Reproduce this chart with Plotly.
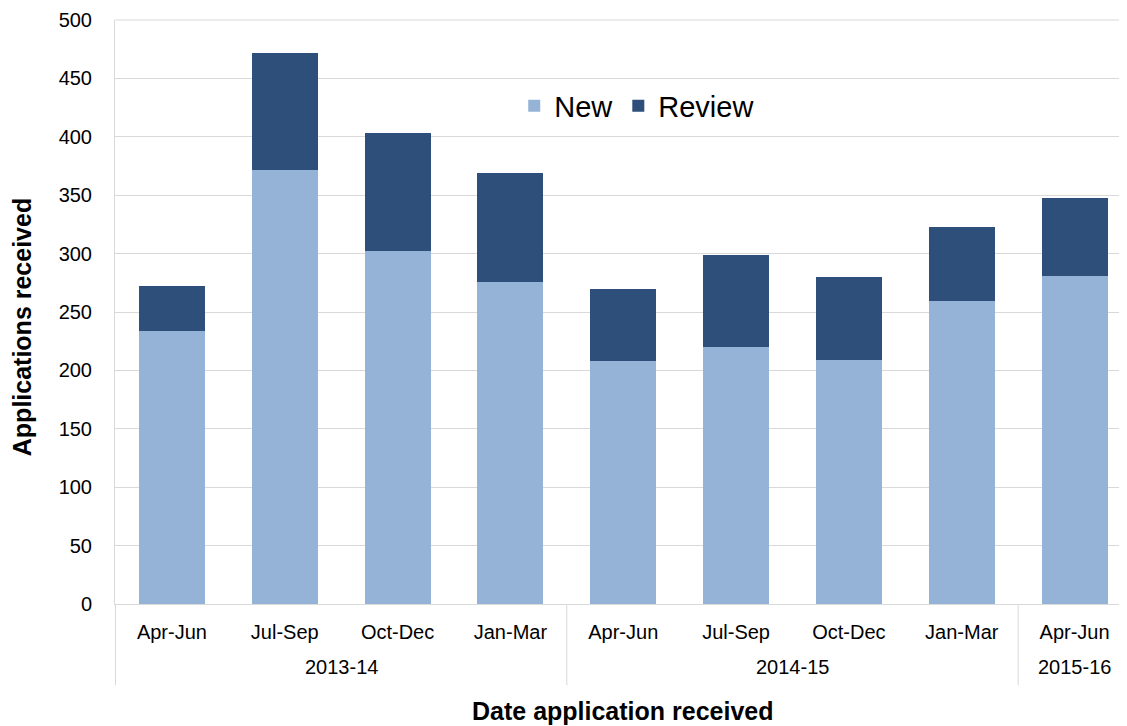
import plotly.graph_objects as go

years = ["2013-14", "2013-14", "2013-14", "2013-14", "2014-15", "2014-15", "2014-15", "2014-15", "2015-16"]
quarters = ["Apr-Jun", "Jul-Sep", "Oct-Dec", "Jan-Mar", "Apr-Jun", "Jul-Sep", "Oct-Dec", "Jan-Mar", "Apr-Jun"]
new_apps = [234, 372, 302, 276, 208, 220, 209, 259, 281]
review_apps = [38, 100, 101, 93, 62, 79, 71, 64, 67]

font_family = "Liberation Sans, Arial, sans-serif"
grid_col = "#D9D9D9"

# unique category keys, displayed with quarter names
keys = [f"{y} {q}" for y, q in zip(years, quarters)]

fig = go.Figure()
fig.add_trace(go.Bar(x=keys, y=new_apps, name="New",
                     marker=dict(color="#95B3D7", line=dict(width=0))))
fig.add_trace(go.Bar(x=keys, y=review_apps, name="Review",
                     marker=dict(color="#2E4F79", line=dict(width=0))))

# year group labels and dividers (derived from the years list)
groups = []
for i, y in enumerate(years):
    if groups and groups[-1][0] == y:
        groups[-1][2] = i
    else:
        groups.append([y, i, i])

annotations = []
shapes = []
for name, i0, i1 in groups:
    annotations.append(dict(x=(i0 + i1) / 2, y=-0.108, xref="x", yref="paper", text=name,
                            showarrow=False, yanchor="middle",
                            font=dict(size=20, family=font_family, color="#000")))
    shapes.append(dict(type="line", xref="x", yref="paper", x0=i0 - 0.5, x1=i0 - 0.5,
                       y0=0, y1=-0.139, line=dict(color=grid_col, width=1)))

annotations.append(dict(x=0.5, y=-0.183, xref="paper", yref="paper",
                        text="<b>Date application received</b>", showarrow=False,
                        yanchor="middle", font=dict(size=25, family=font_family, color="#000")))
annotations.append(dict(x=-0.0915, y=0.474, xref="paper", yref="paper", textangle=-90,
                        text="<b>Applications received</b>", showarrow=False,
                        xanchor="center", yanchor="middle",
                        font=dict(size=25, family=font_family, color="#000")))
shapes.append(dict(type="line", xref="paper", yref="paper", x0=0, x1=1, y0=1, y1=1,
                   line=dict(color=grid_col, width=1)))

fig.update_layout(
    barmode="stack",
    bargap=0.415,
    width=1123, height=718,
    margin=dict(l=107, r=0, t=12, b=122),
    plot_bgcolor="white", paper_bgcolor="white",
    font=dict(family=font_family, size=20, color="#000000"),
    legend=dict(orientation="h", x=0.514, xanchor="center", y=0.853, yanchor="middle",
                font=dict(size=29, family=font_family), bgcolor="rgba(0,0,0,0)",
                itemwidth=30, traceorder="normal"),
    showlegend=True,
    annotations=annotations,
    shapes=shapes,
)
fig.update_yaxes(
    range=[0, 500], dtick=50, showgrid=True, gridcolor=grid_col, gridwidth=1,
    zeroline=False, showline=True, linecolor=grid_col, automargin=False,
    tickfont=dict(size=20, family=font_family), ticks="", ticklabelstandoff=18,
)
fig.update_xaxes(
    type="category", automargin=False,
    tickvals=keys, ticktext=quarters,
    showline=True, linecolor=grid_col, showgrid=False,
    tickfont=dict(size=20, family=font_family), ticks="", ticklabelstandoff=10,
)

fig.write_html("out.html")
